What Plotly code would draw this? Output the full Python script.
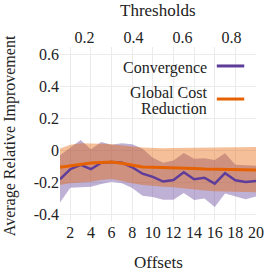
import plotly.graph_objects as go

offsets = list(range(1, 21))
conv_mean = [-0.18, -0.117, -0.09, -0.117, -0.076, -0.072, -0.076, -0.105, -0.145, -0.165,
             -0.194, -0.184, -0.136, -0.18, -0.17, -0.207, -0.142, -0.186, -0.196, -0.19]
conv_upper = [-0.03, 0.02, 0.065, 0.007, 0.052, 0.036, 0.045, 0.038, 0.01, -0.045,
              -0.076, -0.062, -0.016, -0.052, -0.048, -0.06, -0.018, -0.09, -0.093, -0.095]
conv_lower = [-0.325, -0.232, -0.23, -0.226, -0.21, -0.195, -0.205, -0.235, -0.282, -0.29,
              -0.307, -0.307, -0.265, -0.309, -0.3, -0.352, -0.268, -0.288, -0.305, -0.288]
gcr_mean = [-0.105, -0.095, -0.085, -0.078, -0.075, -0.072, -0.08, -0.093, -0.103, -0.105,
            -0.106, -0.107, -0.109, -0.112, -0.116, -0.118, -0.119, -0.12, -0.121, -0.122]
gcr_upper = [0.012, 0.035, 0.045, 0.045, 0.042, 0.038, 0.033, 0.025, 0.018, 0.014,
             0.014, 0.015, 0.016, 0.018, 0.019, 0.02, 0.021, 0.022, 0.022, 0.022]
gcr_lower = [-0.215, -0.205, -0.2, -0.195, -0.185, -0.178, -0.19, -0.205, -0.215, -0.222,
             -0.226, -0.23, -0.238, -0.245, -0.25, -0.254, -0.256, -0.258, -0.259, -0.26]

x_ticks = [2, 4, 6, 8, 10, 12, 14, 16, 18, 20]
y_ticks = [-0.4, -0.2, 0, 0.2, 0.4, 0.6]
y_tick_text = ["-0.4", "-0.2", "0", "0.2", "0.4", "0.6"]
thr_ticks = [0.2, 0.4, 0.6, 0.8]
thr_text = ["0.2", "0.4", "0.6", "0.8"]

PURPLE = "#5e3c99"
ORANGE = "#e66101"
FONT = "Liberation Serif, DejaVu Serif, Times New Roman, serif"
TXT = "#222222"

fig = go.Figure()
fig.add_trace(go.Scatter(x=offsets, y=conv_lower, mode="lines", line=dict(width=0),
                         showlegend=False, hoverinfo="skip"))
fig.add_trace(go.Scatter(x=offsets, y=conv_upper, mode="lines", line=dict(width=0),
                         fill="tonexty", fillcolor="rgba(94,60,153,0.4)",
                         showlegend=False, hoverinfo="skip"))
fig.add_trace(go.Scatter(x=offsets, y=gcr_lower, mode="lines", line=dict(width=0),
                         showlegend=False, hoverinfo="skip"))
fig.add_trace(go.Scatter(x=offsets, y=gcr_upper, mode="lines", line=dict(width=0),
                         fill="tonexty", fillcolor="rgba(230,97,1,0.4)",
                         showlegend=False, hoverinfo="skip"))
fig.add_trace(go.Scatter(x=offsets, y=conv_mean, mode="lines", name="Convergence",
                         line=dict(color=PURPLE, width=2.5), showlegend=False))
fig.add_trace(go.Scatter(x=offsets, y=gcr_mean, mode="lines", name="Global Cost Reduction",
                         line=dict(color=ORANGE, width=3), showlegend=False))
fig.add_trace(go.Scatter(x=thr_ticks, y=[None] * len(thr_ticks), xaxis="x2", yaxis="y",
                         mode="markers", showlegend=False, hoverinfo="skip"))

# legend (text right-aligned, line sample on the right)
legend_texts = [("Convergence", 0.879), ("Global Cost", 0.741), ("Reduction", 0.644)]
for text, ty in legend_texts:
    fig.add_annotation(xref="paper", yref="paper", x=0.755, y=ty, text=text, showarrow=False,
                       xanchor="right", yanchor="middle", align="right", borderpad=0,
                       font=dict(family=FONT, size=16, color=TXT))
for color, ly in [(PURPLE, 0.891), (ORANGE, 0.701)]:
    fig.add_shape(type="line", xref="paper", yref="paper", x0=0.80, x1=0.94, y0=ly, y1=ly,
                  line=dict(color=color, width=3))

# axis titles
fig.add_annotation(xref="paper", yref="paper", x=0.5, y=-0.236, text="Offsets",
                   showarrow=False, xanchor="center", yanchor="middle",
                   font=dict(family=FONT, size=17, color=TXT))
fig.add_annotation(xref="paper", yref="paper", x=0.5, y=1.207, text="Thresholds",
                   showarrow=False, xanchor="center", yanchor="middle",
                   font=dict(family=FONT, size=17, color=TXT))
fig.add_annotation(xref="paper", yref="paper", x=-0.258, y=0.49, text="Average Relative Improvement",
                   showarrow=False, xanchor="center", yanchor="middle", textangle=-90,
                   borderpad=0, font=dict(family=FONT, size=16, color=TXT))

fig.update_layout(
    width=272, height=272,
    margin=dict(l=60, r=16, t=47, b=51),
    paper_bgcolor="white", plot_bgcolor="white",
    font=dict(family=FONT, size=16, color=TXT),
    xaxis=dict(range=[1, 20], tickvals=x_ticks, showgrid=True, gridcolor="#ebebeb",
               zeroline=False, showline=False, ticks="", automargin=False,
               tickfont=dict(family=FONT, size=16)),
    xaxis2=dict(range=[0.1, 0.9], overlaying="x", side="top", tickvals=thr_ticks,
                ticktext=thr_text, showgrid=False, zeroline=False, showline=False, ticks="",
                automargin=False, tickfont=dict(family=FONT, size=16)),
    yaxis=dict(range=[-0.44, 0.645], tickvals=y_ticks, ticktext=y_tick_text, showgrid=True,
               gridcolor="#ebebeb", zeroline=False, showline=False, ticks="", automargin=False,
               tickfont=dict(family=FONT, size=16)),
)

fig.write_html("out.html", config={"displayModeBar": False},
               post_script="document.body.style.margin='0px';document.body.style.padding='0px';")
